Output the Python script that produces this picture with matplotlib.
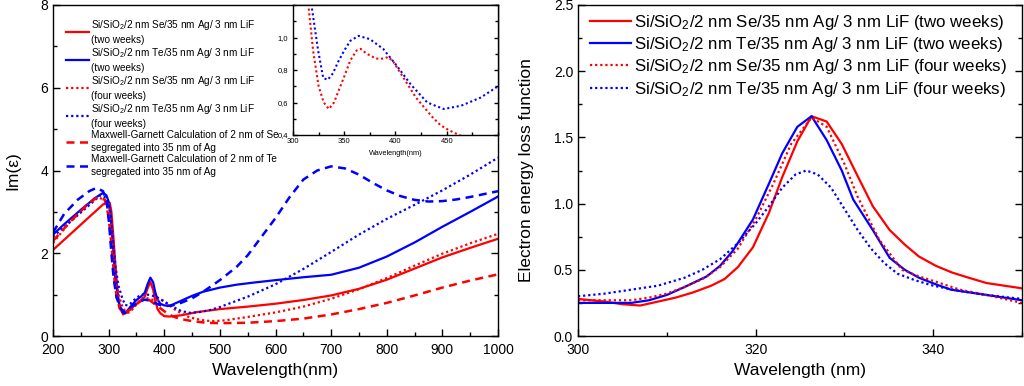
import numpy as np
import matplotlib.pyplot as plt
from matplotlib.ticker import MultipleLocator, FuncFormatter

plt.rcParams['font.family'] = ['Liberation Sans', 'DejaVu Sans']
plt.rcParams['mathtext.fontset'] = 'custom'
plt.rcParams['mathtext.rm'] = 'Liberation Sans'
plt.rcParams['mathtext.it'] = 'Liberation Sans:italic'

# ---------------- left panel: Im(eps) vs wavelength ----------------
wl_se2 = [200, 290, 296, 302, 305, 308, 311, 314, 317, 320, 326, 335, 345, 355, 365, 370, 375, 380,
          384, 388, 393, 400, 410, 430, 460, 500, 550, 600, 650, 700, 750, 800, 850, 900, 950, 1000]
im_se2 = [2.08, 3.18, 3.22, 3.22, 3.0, 2.5, 1.95, 1.4, 0.95, 0.72, 0.52, 0.6, 0.72, 0.83, 0.95, 1.15, 1.31, 1.12,
          0.85, 0.65, 0.55, 0.48, 0.47, 0.5, 0.58, 0.65, 0.71, 0.78, 0.87, 0.98, 1.14, 1.36, 1.63, 1.9, 2.13, 2.35]

wl_te2 = [200, 220, 250, 275, 290, 296, 300, 303, 306, 309, 312, 316, 320, 325, 330, 340, 350, 358, 365, 370,
          375, 380, 384, 388, 393, 400, 410, 430, 450, 470, 500, 530, 560, 600, 650, 700, 750, 800, 850, 900,
          950, 1000]
im_te2 = [2.45, 2.7, 3.05, 3.33, 3.46, 3.4, 3.25, 3.0, 2.5, 1.95, 1.4, 1.0, 0.7, 0.57, 0.55, 0.72, 0.87, 0.95,
          1.05, 1.25, 1.41, 1.3, 1.05, 0.88, 0.78, 0.74, 0.73, 0.85, 0.97, 1.07, 1.17, 1.24, 1.29, 1.35, 1.42,
          1.48, 1.65, 1.92, 2.26, 2.64, 3.0, 3.37]

wl_se4 = [200, 230, 260, 280, 292, 300, 304, 308, 312, 315, 319.6, 325, 330, 335, 340, 345, 350, 356, 362,
          366, 372, 381, 388, 393, 398, 404, 412, 420, 428, 436, 444, 452, 462, 475, 490, 510, 550, 600, 650,
          700, 750, 800, 850, 900, 950, 1000]
im_se4 = [2.25, 2.75, 3.15, 3.35, 3.3, 3.2, 2.9, 2.2, 1.6, 1.2, 0.92, 0.7, 0.6, 0.56, 0.6, 0.68, 0.76, 0.86,
          0.92, 0.93, 0.9, 0.87, 0.87, 0.88, 0.85, 0.79, 0.71, 0.63, 0.57, 0.51, 0.46, 0.43, 0.4, 0.37, 0.36,
          0.38, 0.46, 0.57, 0.71, 0.9, 1.13, 1.4, 1.7, 1.99, 2.24, 2.47]

wl_te4 = [200, 230, 260, 285, 295, 300, 304, 308, 312, 318, 324.5, 329.5, 334, 339, 344, 350, 356, 364, 375,
          388, 402, 415, 431, 447, 464, 483, 500, 550, 600, 650, 700, 750, 800, 850, 900, 950, 1000]
im_te4 = [2.4, 2.75, 3.1, 3.4, 3.35, 3.2, 2.9, 2.3, 1.7, 1.2, 0.92, 0.75, 0.74, 0.78, 0.85, 0.92, 0.98, 1.01,
          0.99, 0.93, 0.82, 0.71, 0.6, 0.56, 0.58, 0.63, 0.7, 0.95, 1.25, 1.62, 2.03, 2.45, 2.83, 3.17, 3.52,
          3.9, 4.31]

wl_mg_se = [200, 230, 260, 278, 293, 299, 303, 307, 311, 315, 320, 328, 340, 355, 365, 372, 380, 392, 405,
            416, 430, 450, 475, 500, 550, 600, 650, 700, 750, 800, 850, 900, 950, 1000]
im_mg_se = [2.3, 2.75, 3.15, 3.34, 3.3, 2.95, 2.5, 1.9, 1.3, 0.9, 0.66, 0.55, 0.65, 0.82, 0.91, 0.88, 0.8,
            0.68, 0.55, 0.47, 0.41, 0.36, 0.32, 0.31, 0.32, 0.36, 0.42, 0.52, 0.65, 0.8, 0.98, 1.17, 1.34, 1.49]

wl_mg_te = [200, 220, 245, 265, 278, 290, 297, 301, 305, 309, 314, 320, 328, 340, 355, 365, 375, 390, 400, 415,
            430, 450, 470, 500, 530, 550, 575, 600, 625, 650, 675, 700, 725, 750, 775, 800, 825, 850, 875,
            900, 925, 950, 975, 1000]
im_mg_te = [2.5, 2.95, 3.3, 3.5, 3.58, 3.5, 3.2, 2.7, 2.0, 1.4, 0.95, 0.7, 0.57, 0.7, 0.83, 0.88, 0.85, 0.76,
            0.72, 0.74, 0.8, 0.91, 1.07, 1.35, 1.67, 1.95, 2.4, 2.85, 3.35, 3.78, 4.0, 4.1, 4.05, 3.9, 3.7,
            3.52, 3.38, 3.29, 3.25, 3.26, 3.3, 3.36, 3.43, 3.5]

# ---------------- right panel: EELS ----------------
el_se2_x = [300, 303, 305, 307, 309, 311, 313, 315, 316.5, 318, 319.7, 321.5, 323, 324.7, 326.3, 328.0,
            329.7, 331.4, 333.2, 335.1, 336.8, 338.4, 340.3, 342.1, 344, 346, 348, 350]
el_se2_y = [0.28, 0.26, 0.24, 0.23, 0.26, 0.29, 0.33, 0.38, 0.43, 0.52, 0.67, 0.93, 1.2, 1.47, 1.66, 1.62,
            1.45, 1.22, 0.98, 0.8, 0.69, 0.6, 0.53, 0.48, 0.44, 0.4, 0.38, 0.36]

el_te2_x = [300, 303, 306, 308, 310, 312, 314.5, 316, 317.4, 319.7, 321.5, 323, 324.7, 326.3, 328.0, 329.7,
            331, 333.2, 335.1, 336.8, 338.4, 340.3, 342, 344, 346, 348, 350]
el_te2_y = [0.25, 0.25, 0.25, 0.27, 0.31, 0.37, 0.45, 0.53, 0.64, 0.88, 1.15, 1.38, 1.58, 1.66, 1.48, 1.25,
            1.03, 0.8, 0.59, 0.5, 0.44, 0.39, 0.35, 0.33, 0.31, 0.29, 0.27]

el_se4_x = [300, 303, 306, 308, 310, 312, 314, 316, 318, 320, 322, 324, 326.3, 328, 330, 331.5, 333.9, 336.5,
            338.4, 340.3, 343, 346, 348, 350]
el_se4_y = [0.27, 0.27, 0.27, 0.29, 0.32, 0.37, 0.43, 0.52, 0.66, 0.88, 1.15, 1.45, 1.65, 1.58, 1.3, 1.05,
            0.73, 0.5, 0.45, 0.41, 0.35, 0.31, 0.28, 0.25]

el_te4_x = [300, 303, 306, 309, 312, 314, 316, 318, 320, 321.5, 323, 324.5, 325.7, 327, 328.5, 330, 331.5,
            333, 334.5, 336, 338, 340, 343, 346, 350]
el_te4_y = [0.3, 0.32, 0.35, 0.38, 0.44, 0.5, 0.58, 0.7, 0.85, 0.98, 1.12, 1.22, 1.25, 1.22, 1.12, 0.96, 0.8,
            0.66, 0.55, 0.47, 0.42, 0.38, 0.34, 0.31, 0.28]

sample_se = 'Si/SiO$_2$/2 nm Se/35 nm Ag/ 3 nm LiF'
sample_te = 'Si/SiO$_2$/2 nm Te/35 nm Ag/ 3 nm LiF'
mg_se = 'Maxwell-Garnett Calculation of 2 nm of Se\nsegregated into 35 nm of Ag'
mg_te = 'Maxwell-Garnett Calculation of 2 nm of Te\nsegregated into 35 nm of Ag'

RED = '#ff0000'
BLUE = '#0000ff'
DOT = (0, (1, 1.3))
DASH = (0, (3.2, 2.2))


def style_axes(ax, size=10, major=5, minor=3):
  ax.tick_params(which='both', direction='in', right=True, labelsize=size)
  ax.tick_params(which='major', length=major, width=1)
  ax.tick_params(which='minor', length=minor, width=1)
  ax.tick_params(axis='x', pad=5)
  for s in ax.spines.values():
    s.set_linewidth(1.0)


fig = plt.figure(figsize=(10.24, 3.86), dpi=100)

# left panel
ax1 = fig.add_axes([53 / 1024, 50 / 386, 445 / 1024, 331 / 386])
ax1.plot(wl_se2, im_se2, color=RED, lw=1.6, label=sample_se + '\n(two weeks)')
ax1.plot(wl_te2, im_te2, color=BLUE, lw=1.6, label=sample_te + '\n(two weeks)')
ax1.plot(wl_se4, im_se4, color=RED, lw=1.6, ls=DOT, label=sample_se + '\n(four weeks)')
ax1.plot(wl_te4, im_te4, color=BLUE, lw=1.6, ls=DOT, label=sample_te + '\n(four weeks)')
ax1.plot(wl_mg_se, im_mg_se, color=RED, lw=1.8, ls=DASH, label=mg_se)
ax1.plot(wl_mg_te, im_mg_te, color=BLUE, lw=1.8, ls=DASH, label=mg_te)
ax1.set_xlim(200, 1000)
ax1.set_ylim(0, 8)
ax1.xaxis.set_major_locator(MultipleLocator(100))
ax1.xaxis.set_minor_locator(MultipleLocator(50))
ax1.yaxis.set_major_locator(MultipleLocator(2))
ax1.yaxis.set_minor_locator(MultipleLocator(1))
style_axes(ax1)
ax1.set_xlabel('Wavelength(nm)', fontsize=12.5, labelpad=4)
ax1.set_ylabel('Im(ε)', fontsize=12.5, labelpad=14)
leg1 = ax1.legend(loc='upper left', bbox_to_anchor=(0.015, 0.98), frameon=False, fontsize=7.2,
                  handlelength=2.3, handletextpad=0.2, labelspacing=0.08, borderaxespad=0.2)
for t in leg1.get_texts():
  t.set_linespacing(1.4)

# inset
axi = fig.add_axes([293 / 1024, (386 - 135) / 386, 205 / 1024, 130 / 386])
axi.plot(wl_se4, im_se4, color=RED, lw=1.5, ls=DOT)
axi.plot(wl_te4, im_te4, color=BLUE, lw=1.5, ls=DOT)
axi.set_xlim(300, 500)
axi.set_ylim(0.4, 1.2)
axi.set_xticks([300, 350, 400, 450])
axi.set_yticks([0.4, 0.6, 0.8, 1.0])
axi.xaxis.set_minor_locator(MultipleLocator(25))
axi.yaxis.set_minor_locator(MultipleLocator(0.1))
axi.yaxis.set_major_formatter(FuncFormatter(lambda v, p: f'{v:.1f}'.replace('.', ',')))
style_axes(axi, size=5.5, major=3, minor=2)
axi.tick_params(axis='x', pad=2)
axi.set_xlabel('Wavelength(nm)', fontsize=5.3, labelpad=4)

# right panel
ax2 = fig.add_axes([578 / 1024, 50 / 386, 444 / 1024, 331 / 386])
ax2.plot(el_se2_x, el_se2_y, color=RED, lw=1.6, label=sample_se + ' (two weeks)')
ax2.plot(el_te2_x, el_te2_y, color=BLUE, lw=1.6, label=sample_te + ' (two weeks)')
ax2.plot(el_se4_x, el_se4_y, color=RED, lw=1.6, ls=DOT, label=sample_se + ' (four weeks)')
ax2.plot(el_te4_x, el_te4_y, color=BLUE, lw=1.6, ls=DOT, label=sample_te + ' (four weeks)')
ax2.set_xlim(300, 350)
ax2.set_ylim(0, 2.5)
ax2.xaxis.set_major_locator(MultipleLocator(20))
ax2.xaxis.set_minor_locator(MultipleLocator(10))
ax2.yaxis.set_major_locator(MultipleLocator(0.5))
ax2.yaxis.set_minor_locator(MultipleLocator(0.25))
ax2.yaxis.set_major_formatter(FuncFormatter(lambda v, p: f'{v:.1f}'))
style_axes(ax2)
ax2.set_xlabel('Wavelength (nm)', fontsize=12.5, labelpad=4)
ax2.set_ylabel('Electron energy loss function', fontsize=12.5, labelpad=14)
ax2.legend(loc='upper left', bbox_to_anchor=(0.005, 1.008), frameon=False, fontsize=12.2,
           handlelength=2.4, handletextpad=0.18, labelspacing=0.2, borderaxespad=0.2)

fig.savefig('out.png', dpi=100)
